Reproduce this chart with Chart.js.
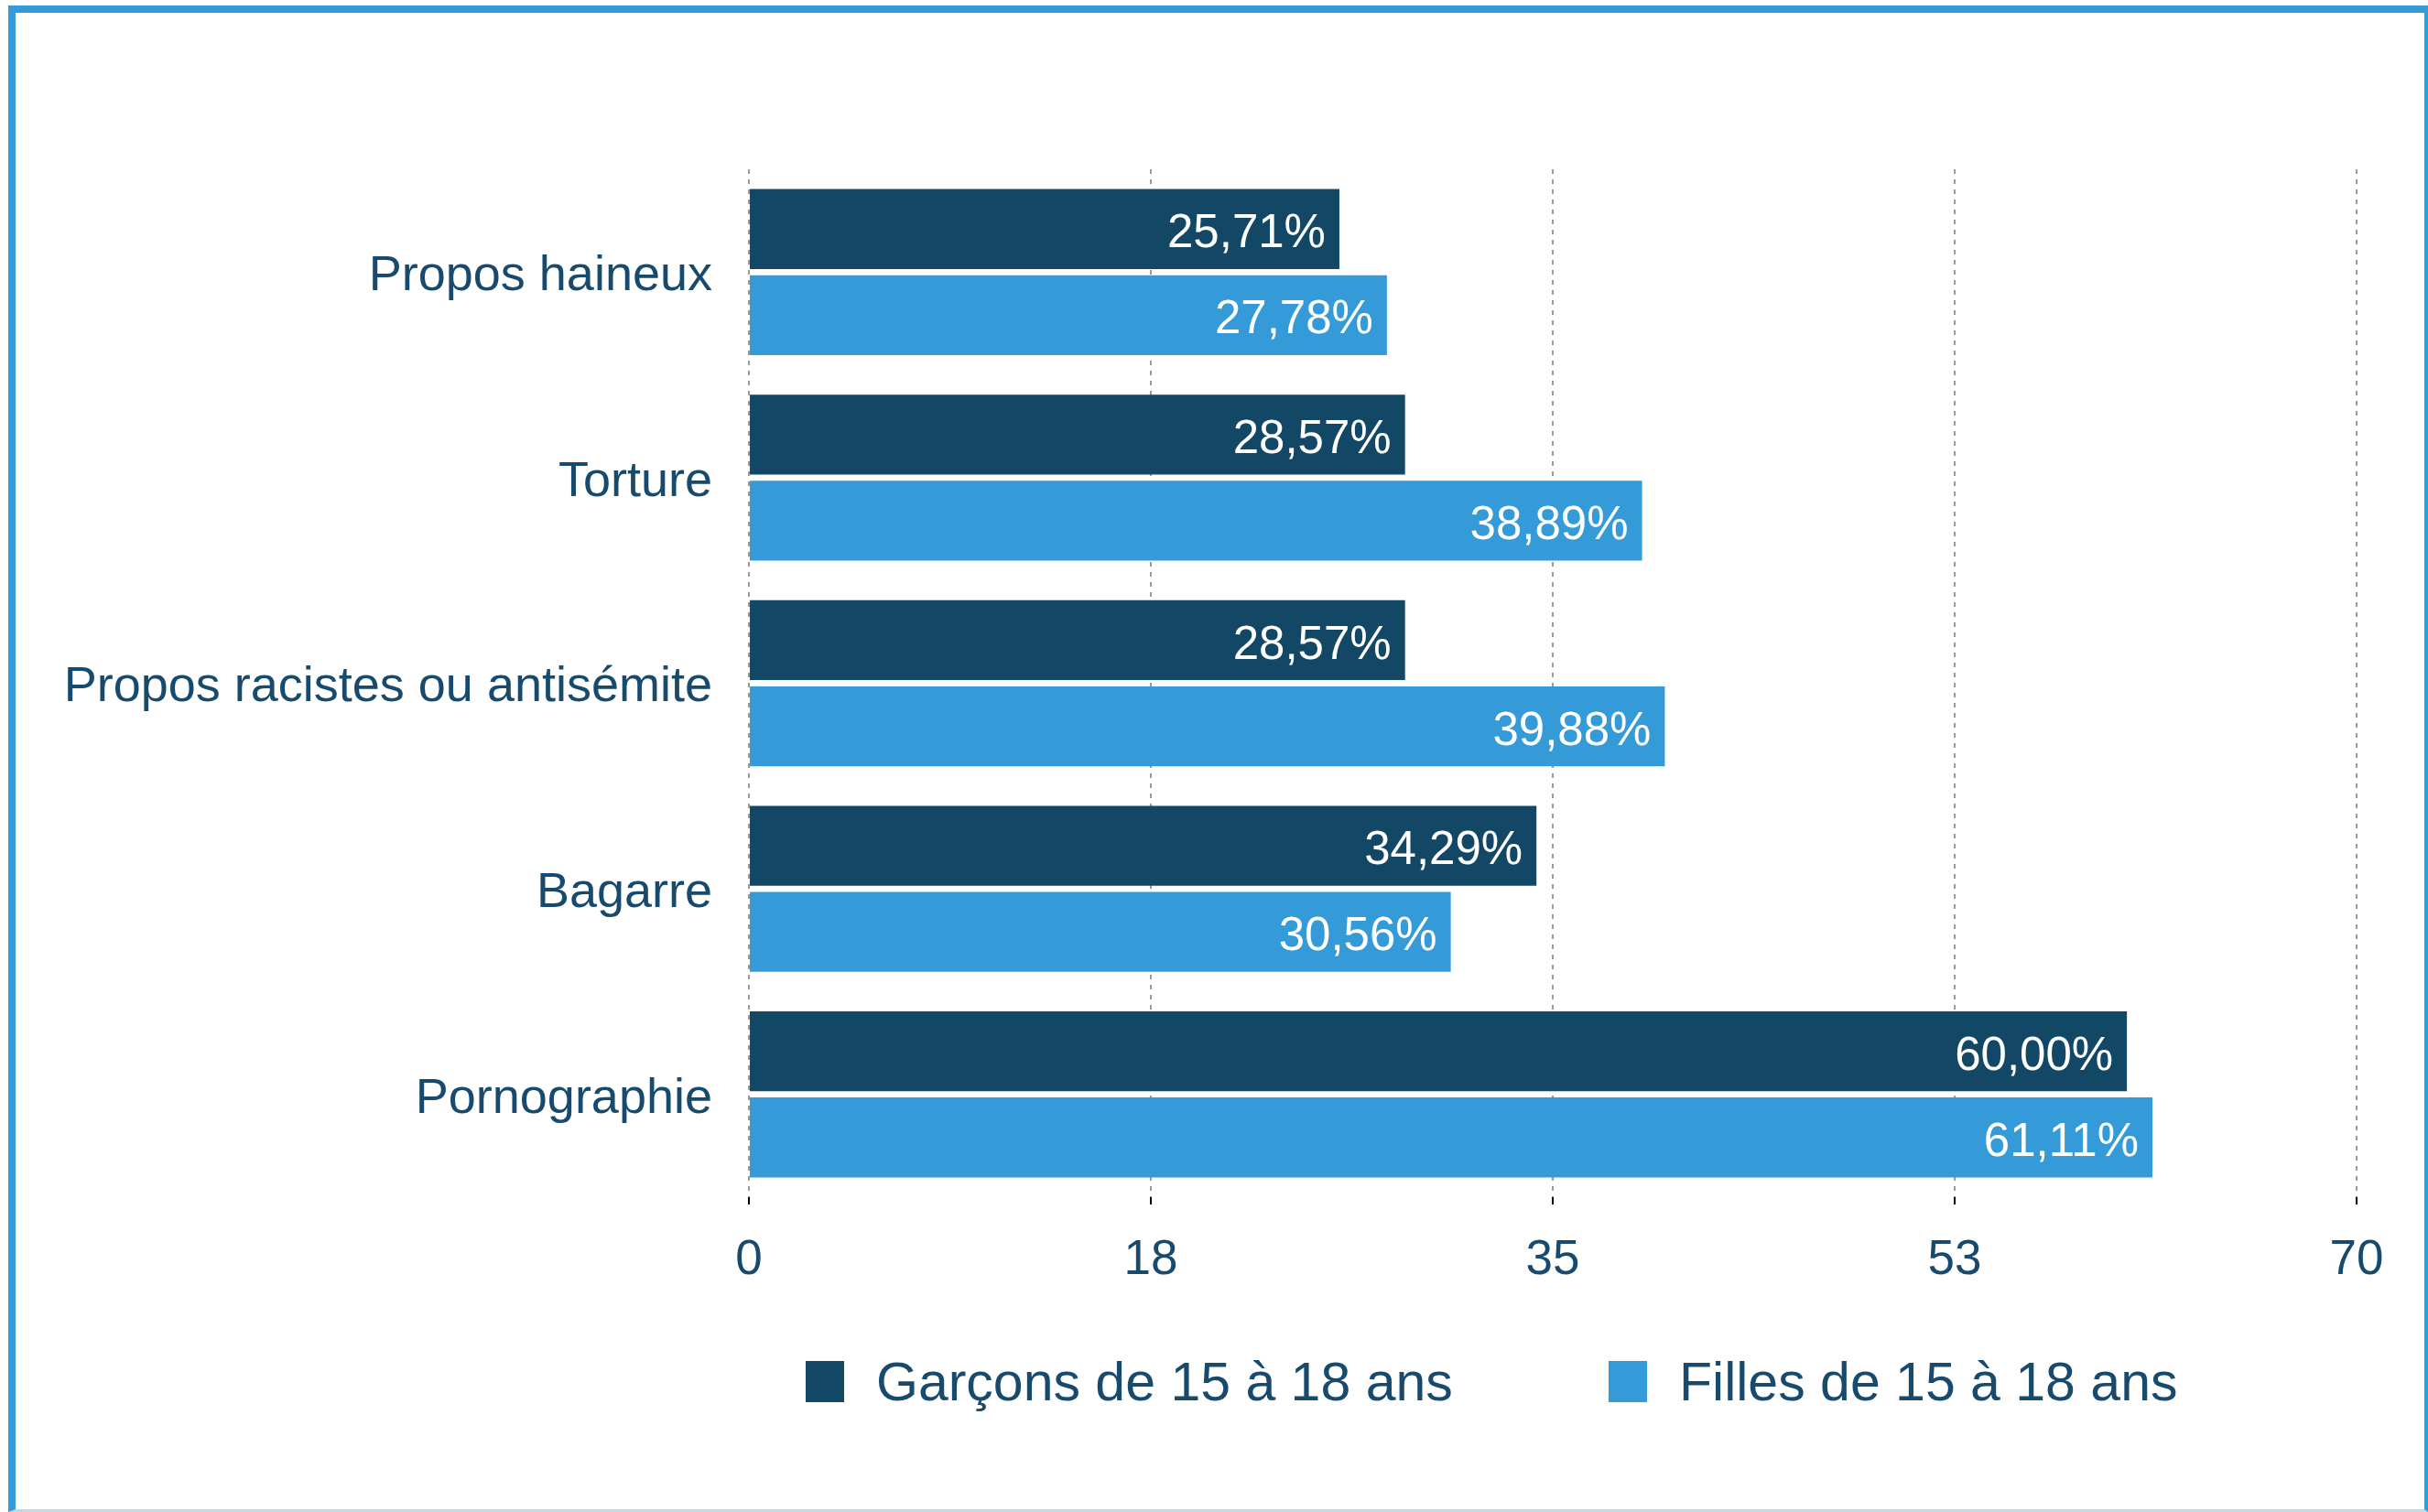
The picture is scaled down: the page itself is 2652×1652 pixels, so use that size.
<!DOCTYPE html>
<html lang="fr">
<head>
<meta charset="utf-8">
<title>Contenus vus par les 15-18 ans</title>
<script src="https://cdn.jsdelivr.net/npm/chart.js@4.4.1/dist/chart.umd.min.js"></script>
<style>
  body { margin: 0; background: #fff; width: 2652px; height: 1652px; overflow: hidden; position: relative; }
  #chart { position: absolute; left: 0; top: 0; }
  #frame {
    position: absolute; left: 9px; top: 6px; width: 2631px; height: 1635px;
    border-top: 8px solid #349bd8; border-left: 8px solid #349bd8;
    border-right: 4px solid #349bd8; border-bottom: 3px solid #b8dcea;
    pointer-events: none;
  }
  .leg { position: absolute; top: 1487px; height: 45px; display: flex; align-items: center;
    font: 59px "Liberation Sans", Arial, sans-serif; color: #174a6c; white-space: nowrap; }
  .leg i { display: inline-block; width: 42px; height: 45px; margin-right: 35px; }
</style>
</head>
<body>
<canvas id="chart" width="2652" height="1652"></canvas>
<div id="frame"></div>
<div id="legend"></div>
<script>
var categories = ['Propos haineux', 'Torture', 'Propos racistes ou antisémite', 'Bagarre', 'Pornographie'];
var garcons = [25.71, 28.57, 28.57, 34.29, 60.00];
var filles = [27.78, 38.89, 39.88, 30.56, 61.11];
var seriesNames = ['Garçons de 15 à 18 ans', 'Filles de 15 à 18 ans'];
var tickValues = [0, 17.5, 35, 52.5, 70];

var dark = '#134766';
var light = '#359bd8';
var textColor = '#174a6c';
var fontFamily = '"Liberation Sans", Arial, sans-serif';

function pct(v) {
  return v.toFixed(2).replace('.', ',') + '%';
}

// white values at the end of each bar
var valueLabels = {
  id: 'valueLabels',
  afterDatasetsDraw(chart) {
    var ctx = chart.ctx;
    ctx.save();
    ctx.font = '51px ' + fontFamily;
    ctx.fillStyle = '#fff';
    ctx.textAlign = 'right';
    ctx.textBaseline = 'middle';
    chart.data.datasets.forEach(function (ds, i) {
      chart.getDatasetMeta(i).data.forEach(function (bar, j) {
        ctx.fillText(pct(ds.data[j]), bar.x - 15, bar.y + 6);
      });
    });
    ctx.restore();
  }
};

var ctx = document.getElementById('chart').getContext('2d');
var myChart = new Chart(ctx, {
  type: 'bar',
  data: {
    labels: categories,
    datasets: [{
      label: seriesNames[0],
      data: garcons,
      backgroundColor: dark,
      categoryPercentage: 0.838,
      barPercentage: 0.928
    }, {
      label: seriesNames[1],
      data: filles,
      backgroundColor: light,
      categoryPercentage: 0.838,
      barPercentage: 0.928
    }]
  },
  options: {
    indexAxis: 'y',
    responsive: false,
    maintainAspectRatio: false,
    animation: false,
    devicePixelRatio: 1,
    layout: { padding: { left: 0, right: 78, top: 185, bottom: 0 } },
    plugins: {
      legend: { display: false },
      tooltip: { enabled: false }
    },
    scales: {
      x: {
        min: 0,
        max: 70,
        afterBuildTicks: function (scale) {
          scale.ticks = tickValues.map(function (v) { return { value: v }; });
        },
        afterFit: function (scale) { scale.height = 344; },
        border: { display: false, dash: [5, 6] },
        grid: {
          color: '#9a9a9a',
          lineWidth: 2,
          tickLength: 8,
          tickColor: '#000',
          tickWidth: 2,
          tickBorderDash: []
        },
        ticks: {
          padding: 30,
          color: textColor,
          font: { family: fontFamily, size: 53 },
          callback: function (v) { return String(Math.round(v)); }
        }
      },
      y: {
        afterFit: function (scale) { scale.width = 818; },
        border: { display: false },
        grid: { display: false },
        ticks: {
          padding: 32,
          labelOffset: 5,
          color: textColor,
          font: { family: fontFamily, size: 54 }
        }
      }
    }
  },
  plugins: [valueLabels]
});

// legend below the axis
var legendLeft = [880, 1757];
var legend = document.getElementById('legend');
myChart.data.datasets.forEach(function (ds, i) {
  var item = document.createElement('div');
  item.className = 'leg';
  item.style.left = legendLeft[i] + 'px';
  item.innerHTML = '<i style="background:' + ds.backgroundColor + '"></i>' + ds.label;
  legend.appendChild(item);
});
</script>
</body>
</html>
